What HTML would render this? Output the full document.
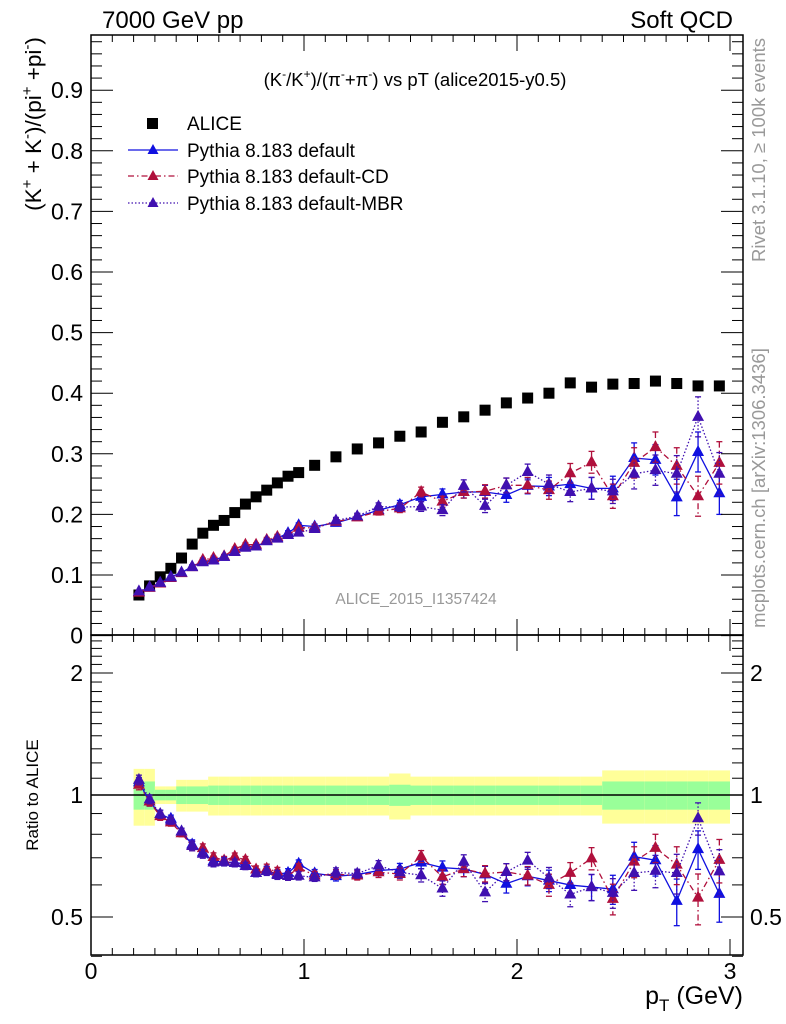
<!DOCTYPE html>
<html><head><meta charset="utf-8">
<style>
html,body{margin:0;padding:0;background:#fff;}
svg{display:block;font-family:"Liberation Sans","DejaVu Sans",sans-serif;}
</style></head>
<body>
<svg id="chart" width="786" height="1024" viewBox="0 0 786 1024" xmlns="http://www.w3.org/2000/svg">
<defs>
<clipPath id="clipMain"><rect x="91" y="35" width="652" height="600"/></clipPath>
<clipPath id="clipRatio"><rect x="91" y="635" width="652" height="320"/></clipPath>
</defs>
<g id="bands" clip-path="url(#clipRatio)"></g>
<line x1="91" y1="795" x2="743" y2="795" stroke="#000" stroke-width="1.5"/>
<g id="series" clip-path="url(#clipMain)"></g>
<g id="rseries" clip-path="url(#clipRatio)"></g>
<g id="axes"></g>
<rect x="91" y="35" width="652" height="600" fill="none" stroke="#000" stroke-width="1.5"/>
<rect x="91" y="635" width="652" height="320" fill="none" stroke="#000" stroke-width="1.5"/>

<text x="102" y="28" font-size="24">7000 GeV pp</text>
<text x="733" y="28" font-size="24" text-anchor="end">Soft QCD</text>
<text x="415" y="86" font-size="18.5" text-anchor="middle">(K<tspan dy="-8" font-size="12">-</tspan><tspan dy="8">/K</tspan><tspan dy="-8" font-size="12">+</tspan><tspan dy="8">)/(π</tspan><tspan dy="-8" font-size="12">-</tspan><tspan dy="8">+π</tspan><tspan dy="-8" font-size="12">-</tspan><tspan dy="8">) vs pT (alice2015-y0.5)</tspan></text>
<text x="416" y="604" font-size="15.5" fill="#999" text-anchor="middle">ALICE_2015_I1357424</text>
<text transform="translate(41,124) rotate(-90)" font-size="22.5" text-anchor="middle">(K<tspan dy="-9" font-size="15">+</tspan><tspan dy="9"> + K</tspan><tspan dy="-9" font-size="15">-</tspan><tspan dy="9">)/(pi</tspan><tspan dy="-9" font-size="15">+</tspan><tspan dy="9"> +pi</tspan><tspan dy="-9" font-size="15">-</tspan><tspan dy="9">)</tspan></text>
<text transform="translate(38,795) rotate(-90)" font-size="17" text-anchor="middle">Ratio to ALICE</text>
<text transform="translate(765,150) rotate(-90)" font-size="18.5" fill="#999" text-anchor="middle">Rivet 3.1.10, ≥ 100k events</text>
<text transform="translate(765,488) rotate(-90)" font-size="18.5" fill="#999" text-anchor="middle">mcplots.cern.ch [arXiv:1306.3436]</text>
<text x="743" y="1004" font-size="25" text-anchor="end">p<tspan dy="7" font-size="17">T</tspan><tspan dy="-7"> (GeV)</tspan></text>

<g>
<rect x="147" y="118" width="11" height="11" fill="#000"/>
<text x="187" y="130" font-size="19">ALICE</text>
<line x1="128" y1="150" x2="178" y2="150" stroke="#1010e0" stroke-width="1.3"/>
<polygon points="153,144 158.5,154 147.5,154" fill="#1010e0"/>
<text x="187" y="157" font-size="19">Pythia 8.183 default</text>
<line x1="128" y1="176" x2="178" y2="176" stroke="#b0103c" stroke-width="1.3" stroke-dasharray="6,3,1.5,3"/>
<polygon points="153,170 158.5,180 147.5,180" fill="#b0103c"/>
<text x="187" y="183" font-size="19">Pythia 8.183 default-CD</text>
<line x1="128" y1="203" x2="178" y2="203" stroke="#4010b0" stroke-width="1.3" stroke-dasharray="1.5,2"/>
<polygon points="153,197 158.5,207 147.5,207" fill="#4010b0"/>
<text x="187" y="210" font-size="19">Pythia 8.183 default-MBR</text>
</g>

<script>
const pt = [0.225,0.275,0.325,0.375,0.425,0.475,0.525,0.575,0.625,0.675,0.725,0.775,0.825,0.875,0.925,0.975,1.05,1.15,1.25,1.35,1.45,1.55,1.65,1.75,1.85,1.95,2.05,2.15,2.25,2.35,2.45,2.55,2.65,2.75,2.85,2.95];
const binLo = [0.2,0.25,0.3,0.35,0.4,0.45,0.5,0.55,0.6,0.65,0.7,0.75,0.8,0.85,0.9,0.95,1.0,1.1,1.2,1.3,1.4,1.5,1.6,1.7,1.8,1.9,2.0,2.1,2.2,2.3,2.4,2.5,2.6,2.7,2.8,2.9];
const binHi = [0.25,0.3,0.35,0.4,0.45,0.5,0.55,0.6,0.65,0.7,0.75,0.8,0.85,0.9,0.95,1.0,1.1,1.2,1.3,1.4,1.5,1.6,1.7,1.8,1.9,2.0,2.1,2.2,2.3,2.4,2.5,2.6,2.7,2.8,2.9,3.0];
const alice = [0.067,0.082,0.097,0.111,0.128,0.151,0.169,0.182,0.190,0.203,0.217,0.229,0.240,0.252,0.263,0.269,0.281,0.295,0.308,0.318,0.329,0.336,0.352,0.361,0.372,0.384,0.392,0.400,0.417,0.410,0.415,0.416,0.420,0.416,0.412,0.412];
const statRel = [0.08,0.08,0.03,0.03,0.05,0.05,0.05,0.055,0.055,0.055,0.055,0.055,0.055,0.055,0.055,0.055,0.055,0.055,0.055,0.055,0.06,0.055,0.055,0.055,0.055,0.055,0.055,0.055,0.055,0.055,0.08,0.08,0.08,0.08,0.08,0.08];
const totRel = [0.16,0.16,0.05,0.05,0.09,0.09,0.09,0.11,0.11,0.11,0.11,0.11,0.11,0.11,0.11,0.11,0.11,0.11,0.11,0.11,0.13,0.11,0.11,0.11,0.11,0.11,0.11,0.11,0.11,0.11,0.15,0.15,0.15,0.15,0.15,0.15];
const pyDefault = [0.072,0.079,0.087,0.097,0.104,0.114,0.122,0.125,0.130,0.138,0.147,0.147,0.156,0.161,0.169,0.182,0.180,0.186,0.196,0.207,0.216,0.229,0.233,0.237,0.237,0.232,0.247,0.246,0.250,0.243,0.243,0.293,0.290,0.228,0.303,0.235];
const pyDefaultErr = [0.002,0.002,0.002,0.002,0.002,0.003,0.003,0.003,0.003,0.003,0.003,0.003,0.004,0.004,0.004,0.004,0.004,0.005,0.005,0.006,0.007,0.008,0.009,0.010,0.011,0.012,0.013,0.015,0.016,0.018,0.020,0.025,0.025,0.030,0.033,0.035];
const pyCD = [0.071,0.079,0.086,0.095,0.103,0.113,0.125,0.128,0.131,0.143,0.150,0.150,0.158,0.163,0.166,0.178,0.178,0.188,0.195,0.205,0.210,0.237,0.221,0.237,0.238,0.248,0.248,0.240,0.268,0.286,0.230,0.285,0.311,0.280,0.230,0.285];
const pyCDErr = [0.002,0.002,0.002,0.002,0.002,0.003,0.003,0.003,0.003,0.003,0.003,0.003,0.004,0.004,0.004,0.004,0.004,0.005,0.005,0.006,0.007,0.008,0.009,0.010,0.011,0.012,0.013,0.015,0.016,0.018,0.020,0.025,0.025,0.030,0.033,0.035];
const pyMBR = [0.073,0.080,0.087,0.096,0.104,0.113,0.121,0.124,0.130,0.138,0.145,0.147,0.156,0.160,0.166,0.170,0.176,0.190,0.197,0.213,0.212,0.213,0.207,0.247,0.214,0.248,0.270,0.250,0.237,0.243,0.238,0.267,0.273,0.267,0.361,0.267];
const pyMBRErr = [0.002,0.002,0.002,0.002,0.002,0.003,0.003,0.003,0.003,0.003,0.003,0.003,0.004,0.004,0.004,0.004,0.004,0.005,0.005,0.006,0.007,0.008,0.009,0.010,0.011,0.012,0.013,0.015,0.016,0.018,0.020,0.025,0.025,0.030,0.033,0.035];
const mainTicks = [0,0.1,0.2,0.3,0.4,0.5,0.6,0.7,0.8,0.9];
const mainTickLabels = ["0","0.1","0.2","0.3","0.4","0.5","0.6","0.7","0.8","0.9"];
const ratioTicks = [0.5,1,2];
const ratioTickLabels = ["0.5","1","2"];
const xTicks = [0,1,2,3];
const xTickLabels = ["0","1","2","3"];

const NS = "http://www.w3.org/2000/svg";
const X = p => 91 + p * 213;
const Y = v => 635.6 - v * 606;
const R = r => 795 - 122 * Math.log2(r);
function mk(tag, attrs, parent){
  const e = document.createElementNS(NS, tag);
  for (const k in attrs) e.setAttribute(k, attrs[k]);
  parent.appendChild(e);
  return e;
}
const axes = document.getElementById('axes');
const series = document.getElementById('series');
const rseries = document.getElementById('rseries');
const bands = document.getElementById('bands');

for (let i = 0; i < pt.length; i++) {
  const y1 = mk('rect', {x: X(binLo[i]), width: X(binHi[i]) - X(binLo[i]), y: R(1 + totRel[i]), height: R(1 - totRel[i]) - R(1 + totRel[i]), fill: '#ffff99'}, bands);
  
  
  const g1 = mk('rect', {x: X(binLo[i]), width: X(binHi[i]) - X(binLo[i]), y: R(1 + statRel[i]), height: R(1 - statRel[i]) - R(1 + statRel[i]), fill: '#99ff99'}, bands);
  
  
}

for (let v = 0; v <= 0.99; v += 0.02) {
  const major = Math.abs(v * 10 - Math.round(v * 10)) < 1e-6;
  const len = major ? 22 : 11;
  mk('line', {x1: 91, x2: 91 + len, y1: Y(v), y2: Y(v), stroke: '#000', 'stroke-width': 1}, axes);
  mk('line', {x1: 743, x2: 743 - len, y1: Y(v), y2: Y(v), stroke: '#000', 'stroke-width': 1}, axes);
}
mainTicks.forEach((v, i) => {
  const t = mk('text', {x: 83, y: Y(v) + 8, 'font-size': 23, 'text-anchor': 'end'}, axes);
  t.textContent = mainTickLabels[i];
  
  
});
for (let k = 4; k <= 24; k++) {
  const r = k / 10;
  const major = (k === 5 || k === 10 || k === 20);
  const len = major ? 22 : 11;
  mk('line', {x1: 91, x2: 91 + len, y1: R(r), y2: R(r), stroke: '#000', 'stroke-width': 1}, axes);
  mk('line', {x1: 743, x2: 743 - len, y1: R(r), y2: R(r), stroke: '#000', 'stroke-width': 1}, axes);
}
ratioTicks.forEach((r, i) => {
  const t = mk('text', {x: 83, y: R(r) + 8, 'font-size': 23, 'text-anchor': 'end'}, axes);
  t.textContent = ratioTickLabels[i];
  
  
  const t2 = mk('text', {x: 750, y: R(r) + 8, 'font-size': 23}, axes);
  t2.textContent = ratioTickLabels[i];
  
  
});
for (let k = 0; k <= 30; k++) {
  const p = k / 10;
  const major = k % 10 === 0;
  const len = major ? 16 : 7;
  [35, 635].forEach(y0 => mk('line', {x1: X(p), x2: X(p), y1: y0, y2: y0 + len, stroke: '#000', 'stroke-width': 1}, axes));
  mk('line', {x1: X(p), x2: X(p), y1: 635, y2: 635 - len, stroke: '#000', 'stroke-width': 1}, axes);
  mk('line', {x1: X(p), x2: X(p), y1: 955, y2: 955 - len, stroke: '#000', 'stroke-width': 1}, axes);
}
xTicks.forEach((p, i) => {
  const t = mk('text', {x: X(p), y: 979, 'font-size': 23, 'text-anchor': 'middle'}, axes);
  t.textContent = xTickLabels[i];
  
  
});

alice.forEach((v, i) => {
  const s = mk('rect', {x: X(pt[i]) - 5.5, y: Y(v) - 5.5, width: 11, height: 11, fill: '#000'}, series);
  
  
});

function drawSeries(vals, errs, color, dash, name){
  const lineM = mk('polyline', {points: vals.map((v, i) => X(pt[i]) + ',' + Y(v)).join(' '), fill: 'none', stroke: color, 'stroke-width': 1.3, 'stroke-dasharray': dash}, series);
  
  
  const lineR = mk('polyline', {points: vals.map((v, i) => X(pt[i]) + ',' + R(v / alice[i])).join(' '), fill: 'none', stroke: color, 'stroke-width': 1.3, 'stroke-dasharray': dash}, rseries);
  
  
  vals.forEach((v, i) => {
    const x = X(pt[i]);
    [[series, Y(v), Y(v + errs[i]), Y(v - errs[i])], [rseries, R(v / alice[i]), R((v + errs[i]) / alice[i]), R((v - errs[i]) / alice[i])]].forEach(([g, yc, yt, yb]) => {
      mk('line', {x1: x, x2: x, y1: yt, y2: yb, stroke: color, 'stroke-width': 1.3, 'stroke-dasharray': dash}, g);
      mk('line', {x1: x - 3, x2: x + 3, y1: yt, y2: yt, stroke: color, 'stroke-width': 1.3}, g);
      mk('line', {x1: x - 3, x2: x + 3, y1: yb, y2: yb, stroke: color, 'stroke-width': 1.3}, g);
      const tri = mk('polygon', {points: `${x},${yc - 7} ${x + 6},${yc + 4} ${x - 6},${yc + 4}`, fill: color}, g);
      
      
    });
  });
}
drawSeries(pyDefault, pyDefaultErr, '#1010e0', 'none', 'pythia-default');
drawSeries(pyCD, pyCDErr, '#b0103c', '6,3,1.5,3', 'pythia-default-cd');
drawSeries(pyMBR, pyMBRErr, '#4010b0', '1.5,2', 'pythia-default-mbr');
</script>
</svg>
</body></html>
